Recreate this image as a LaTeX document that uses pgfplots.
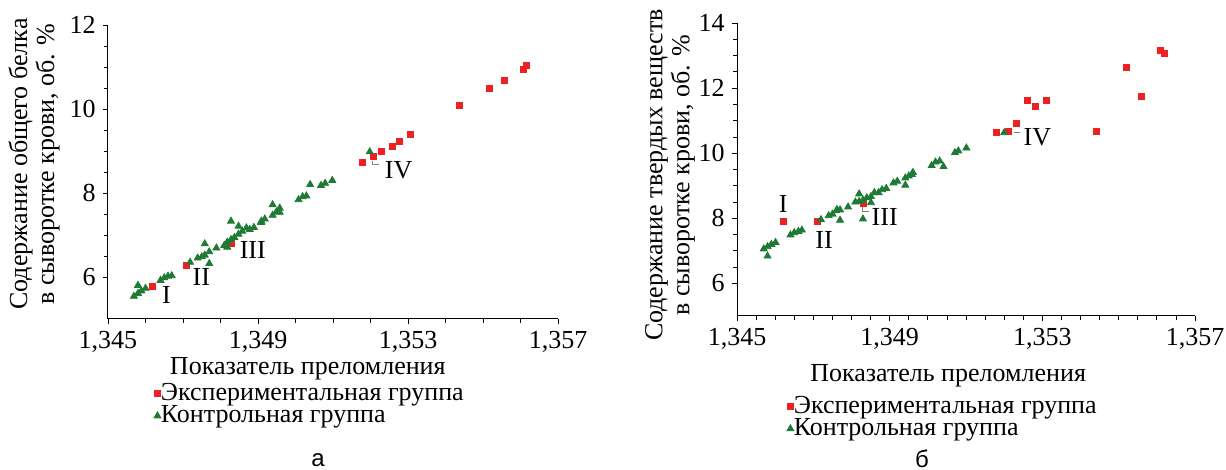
\documentclass[border=0pt]{standalone}
\usepackage{fontspec}
\setmainfont{Liberation Serif}
\newfontfamily\timesfont{Liberation Serif}
\newfontfamily\sublabelfont{Liberation Sans}
\usepackage{pgfplots}
\pgfplotsset{compat=1.18}

\definecolor{expred}{RGB}{237,32,36}
\definecolor{ctrlgreen}{RGB}{30,122,52}

\tikzset{
  lbl/.style={font=\timesfont\fontsize{13}{13}\selectfont,anchor=center},
  lead/.style={gray,line width=0.4pt},
}

\pgfplotsset{
  refr/.style={
    scale only axis,
    anchor=south west,
    xmin=1.345, xmax=1.357,
    ymin=5,
    xtick={1.345,1.349,1.353,1.357},
    minor y tick num=3,
    axis x line*=bottom, axis y line*=left,
    axis line style={black,line width=0.5pt,-},
    tick align=outside,
    major tick length=2.6pt, minor tick length=2pt,
    tick style={black,line width=0.4pt},
    every tick label/.append style={font=\timesfont\fontsize{13}{15}\selectfont},
    label style={font=\timesfont\fontsize{13}{13.5}\selectfont},
    /pgf/number format/assume math mode=true,
    xticklabel style={/pgf/number format/.cd,fixed,fixed zerofill,precision=3,use comma},
    yticklabel style={/pgf/number format/.cd,fixed,precision=0},
    scaled x ticks=false,
    legend style={draw=none,fill=none,anchor=north west,
      font=\timesfont\fontsize{13}{13}\selectfont,row sep=1pt,
      nodes={inner sep=0pt}},
    legend cell align=left,
    legend image code/.code={\draw[mark repeat=1,mark phase=1,##1] plot coordinates {(0pt,0pt)};},
  },
  exp/.style={only marks,mark=square*,mark size=1.5pt,color=expred},
  ctl/.style={only marks,mark=triangle*,mark size=2pt,color=ctrlgreen},
}

\begin{document}
\begin{tikzpicture}
\useasboundingbox (0,0) rectangle (613pt,235pt);

% ---- a ----
\begin{axis}[refr,
  at={(54pt,75.5pt)}, width=225pt, height=147pt,
  ymax=12, ytick={6,8,10,12},
  minor x tick num=3,
  xlabel={Показатель преломления},
  ylabel={Содержание общего белка\\в сыворотке крови, об. \%},
  xlabel style={at={(axis description cs:0.444,-0.19)},anchor=base},
  ylabel style={at={(axis description cs:-0.164,0.527)},anchor=center,align=center},
  legend style={at={(axis description cs:0.088,-0.205)}},
]
\addplot[exp] coordinates {
(1.34619,5.78) (1.34708,6.28) (1.34828,6.79) (1.35179,8.74) (1.35209,8.86)
(1.35229,8.98) (1.35258,9.11) (1.35278,9.23) (1.35307,9.39) (1.35438,10.09)
(1.35517,10.48) (1.35557,10.68) (1.35607,10.95) (1.35617,11.04)
};
\addlegendentry{Экспериментальная группа}
\addplot[ctl] coordinates {
(1.34569,5.54) (1.34580,5.80) (1.34580,5.61) (1.34589,5.67) (1.34600,5.73)
(1.34640,5.92) (1.34650,5.98) (1.34660,6.02) (1.34670,6.03) (1.34719,6.35)
(1.34739,6.45) (1.34750,6.48) (1.34758,6.52) (1.34758,6.79) (1.34770,6.60)
(1.34770,6.32) (1.34789,6.69) (1.34810,6.75) (1.34818,6.71) (1.34818,6.83)
(1.34828,6.89) (1.34828,7.33) (1.34837,6.94) (1.34848,7.02) (1.34848,7.21)
(1.34858,7.09) (1.34869,7.17) (1.34878,7.13) (1.34889,7.18) (1.34908,7.30)
(1.34909,7.33) (1.34918,7.38) (1.34939,7.47) (1.34939,7.72) (1.34949,7.55)
(1.34958,7.54) (1.34958,7.64) (1.35008,7.84) (1.35019,7.91) (1.35029,7.93)
(1.35039,8.20) (1.35068,8.18) (1.35079,8.23) (1.35098,8.30) (1.35198,8.98)
};
\addlegendentry{Контрольная группа}
\node[lbl] at (axis cs:1.34656,5.58) {I};
\node[lbl] at (axis cs:1.34749,5.99) {II};
\node[lbl] at (axis cs:1.34886,6.65) {III};
\node[lbl] at (axis cs:1.35275,8.55) {IV};
\draw[lead] (axis cs:1.35205,8.77) -- (axis cs:1.35205,8.67) -- (axis cs:1.35222,8.67);
\end{axis}

% ---- б ----
\begin{axis}[refr,
  at={(368.5pt,77pt)}, width=229pt, height=146.5pt,
  ymax=14, ytick={6,8,10,12,14},
  minor x tick num=7,
  xlabel={Показатель преломления},
  ylabel={Содержание твердых веществ\\в сыворотке крови, об. \%},
  xlabel style={at={(axis description cs:0.461,-0.225)},anchor=base},
  ylabel style={at={(axis description cs:-0.146,0.481)},anchor=center,align=center},
  legend style={at={(axis description cs:0.095,-0.26)}},
]
\addplot[exp] coordinates {
(1.34621,7.92) (1.34710,7.90) (1.34830,8.46) (1.35180,10.63) (1.35211,10.68)
(1.35231,10.93) (1.35260,11.61) (1.35281,11.44) (1.35310,11.61) (1.35441,10.67)
(1.35520,12.64) (1.35560,11.74) (1.35609,13.16) (1.35620,13.06)
};
\addlegendentry{Экспериментальная группа}
\addplot[ctl] coordinates {
(1.34570,7.06) (1.34580,7.13) (1.34580,6.84) (1.34590,7.20) (1.34601,7.26)
(1.34640,7.49) (1.34650,7.56) (1.34661,7.60) (1.34670,7.64) (1.34720,7.96)
(1.34740,8.08) (1.34750,8.13) (1.34760,8.23) (1.34762,8.27) (1.34770,7.94)
(1.34770,8.26) (1.34791,8.35) (1.34810,8.50) (1.34820,8.75) (1.34820,8.52)
(1.34830,8.56) (1.34830,7.98) (1.34840,8.63) (1.34851,8.67) (1.34851,8.48)
(1.34860,8.79) (1.34871,8.79) (1.34880,8.88) (1.34891,8.92) (1.34910,9.09)
(1.34920,9.14) (1.34941,9.24) (1.34941,9.02) (1.34950,9.30) (1.34961,9.41)
(1.34958,9.35) (1.35010,9.62) (1.35020,9.73) (1.35031,9.76) (1.35041,9.59)
(1.35071,10.02) (1.35080,10.07) (1.35101,10.16) (1.35200,10.63)
};
\addlegendentry{Контрольная группа}
\node[lbl] at (axis cs:1.34621,8.44) {I};
\node[lbl] at (axis cs:1.34728,7.35) {II};
\node[lbl] at (axis cs:1.34887,8.05) {III};
\node[lbl] at (axis cs:1.35287,10.49) {IV};
\draw[lead] (axis cs:1.34828,8.36) -- (axis cs:1.34828,8.21) -- (axis cs:1.34845,8.21);
\draw[lead] (axis cs:1.35226,10.64) -- (axis cs:1.35241,10.64);
\end{axis}

\node[font=\sublabelfont\fontsize{12}{12}\selectfont,inner sep=0pt,anchor=base] at (159pt,1.5pt) {а};
\node[font=\sublabelfont\fontsize{12}{12}\selectfont,inner sep=0pt,anchor=base] at (461pt,1pt) {б};
\end{tikzpicture}
\end{document}
